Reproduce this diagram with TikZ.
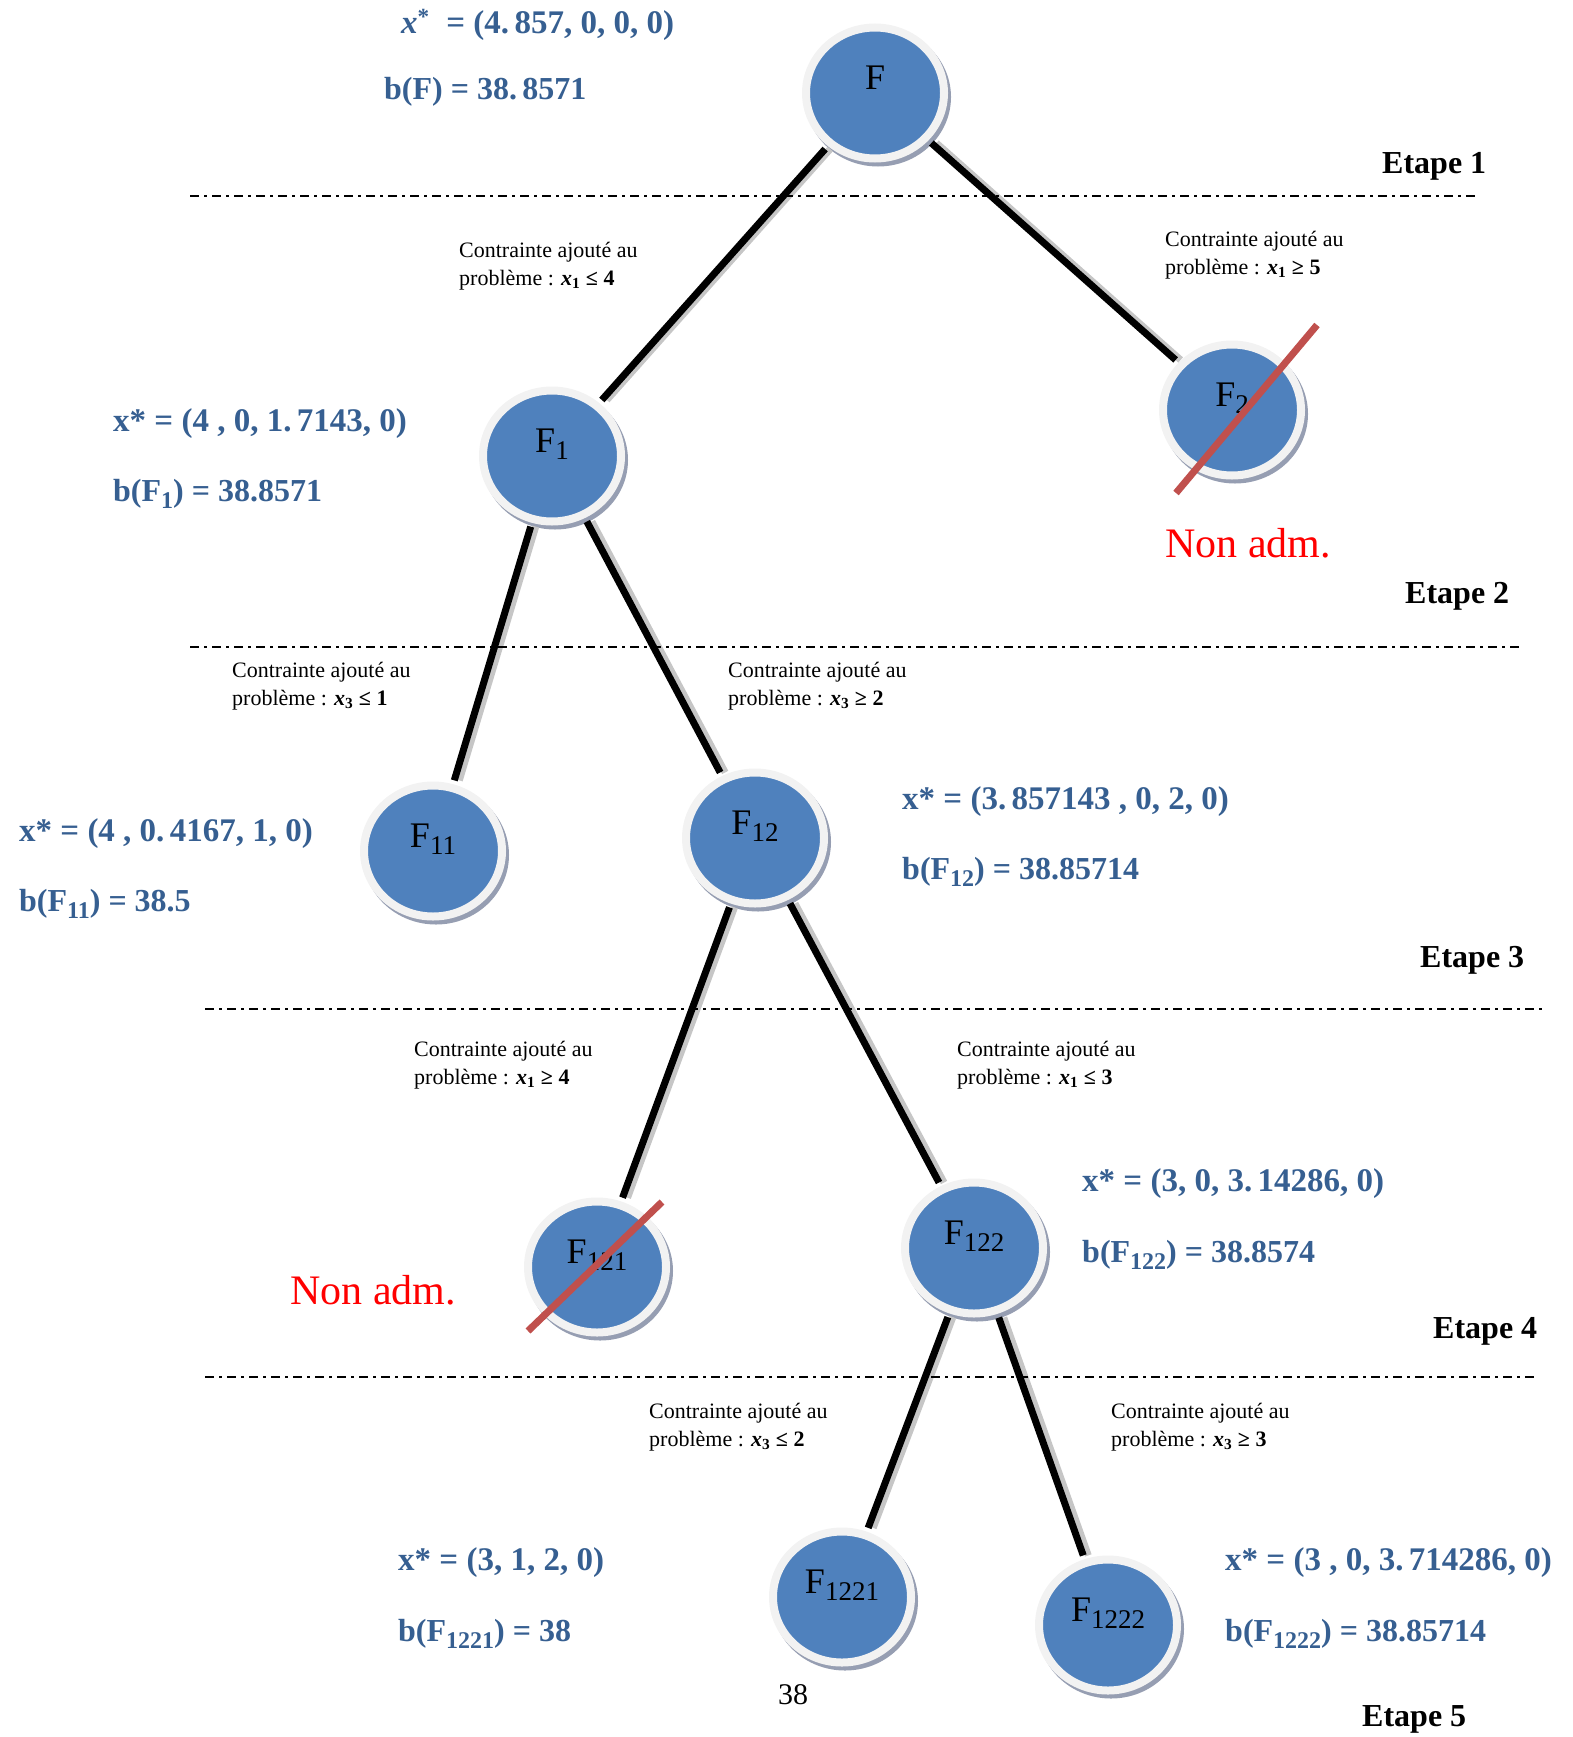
\documentclass[tikz,border=0pt]{standalone}
\usepackage{fontspec}
\setmainfont{Liberation Serif}
\usepackage{tikz}
\usetikzlibrary{positioning,shapes.geometric}
\definecolor{bleunoeud}{RGB}{79,129,189}
\definecolor{bleutexte}{RGB}{54,95,145}
\definecolor{anneau}{RGB}{242,242,242}
\definecolor{ombre}{RGB}{150,158,178}
\definecolor{rouille}{RGB}{192,80,77}
\newcommand{\Fsub}[2][27]{F\raisebox{-0.2em}{\fontsize{#1}{#1}\selectfont #2}}
\newcommand{\ajout}[1]{Contrainte ajouté au\\problème : \textbf{\textit{x}\textsubscript{\upshape #1}}}

\begin{document}
\begin{tikzpicture}[x=1pt,y=-1pt,on grid,
	sommet/.style={ellipse,minimum width=138pt,minimum height=131pt,
		fill=bleunoeud,draw=anneau,line width=8pt,
		text height=26pt,text depth=33pt,
		font=\fontsize{36}{40}\selectfont,
		preaction={fill=ombre,draw=ombre,transform canvas={shift={(3pt,-4pt)}}}},
	branche/.style={line width=7pt,shorten <=4pt,shorten >=4pt},
	ombrebranche/.style={branche,draw=gray!45},
	croix/.style={draw=rouille,line width=7pt},
	separation/.style={line width=1.5pt,dash pattern=on 9pt off 5pt on 3pt off 5pt},
	info/.style={anchor=west,inner sep=0pt,text=bleutexte,
		font=\fontsize{32}{38}\selectfont\bfseries},
	solution/.style={info,font=\fontsize{33}{38}\selectfont\bfseries},
	contrainte/.style={anchor=west,inner sep=0pt,align=left,
		font=\fontsize{22}{28}\selectfont},
	etape/.style={anchor=west,inner sep=0pt,font=\fontsize{32}{36}\selectfont\bfseries},
	nonadm/.style={anchor=west,inner sep=0pt,text=red,font=\fontsize{42}{48}\selectfont}]
\useasboundingbox (0,0) rectangle (1573,1737);

% arbre
\node(F)	[sommet] at (875,93) {F};
\node(F1)	[sommet,below left=363pt and 323pt of F] {\Fsub{1}};
\node(F2)	[sommet,below right=317pt and 357pt of F] {\Fsub{2}};
\node(F11)	[sommet,below left=395pt and 119pt of F1] {\Fsub{11}};
\node(F12)	[sommet,below right=382pt and 203pt of F1] {\Fsub{12}};
\node(F121)	[sommet,below left=429pt and 158pt of F12] {\Fsub{121}};
\node(F122)	[sommet,below right=410pt and 219pt of F12] {\Fsub{122}};
\node(F1221)	[sommet,below left=349pt and 132pt of F122] {\Fsub{1221}};
\node(F1222)	[sommet,below right=377pt and 134pt of F122] {\Fsub{1222}};

% branches, avec leur ombre grise a droite
\begin{scope}[transform canvas={xshift=5pt}]
\foreach \a/\b in {F/F1,F/F2,F1/F11,F1/F12,F12/F121,F12/F122,F122/F1221,F122/F1222}
	\draw[ombrebranche] (\a) -- (\b);
\end{scope}
\draw[branche] (F)    -- (F1);
\draw[branche] (F)    -- (F2);
\draw[branche] (F1)   -- (F11);
\draw[branche] (F1)   -- (F12);
\draw[branche] (F12)  -- (F121);
\draw[branche] (F12)  -- (F122);
\draw[branche] (F122) -- (F1221);
\draw[branche] (F122) -- (F1222);

% noeuds non admissibles
\draw[croix] ([shift={(-56,83)}]F2.center) -- ([shift={(85,-85)}]F2.center);
\draw[croix] ([shift={(-69,64)}]F121.center) -- ([shift={(65,-65)}]F121.center);
\node(na2)	[nonadm] at (1165,543) {Non adm.};
\node(na121)	[nonadm] at (290,1290) {Non adm.};

% etapes
\draw[separation] (190,196) -- (1479,196);
\draw[separation] (190,647) -- (1520,647);
\draw[separation] (205,1009) -- (1542,1009);
\draw[separation] (205,1377) -- (1534,1377);
\node(e1)	[etape] at (1382,166) {Etape 1};
\node(e2)	[etape] at (1405,596) {Etape 2};
\node(e3)	[etape] at (1420,960) {Etape 3};
\node(e4)	[etape] at (1433,1331) {Etape 4};
\node(e5)	[etape] at (1362,1719) {Etape 5};

% contraintes
\node(c1)	[contrainte] at (459,266) {\ajout{1} \textbf{≤ 4}};
\node(c2)	[contrainte] at (1165,255) {\ajout{1} \textbf{≥ 5}};
\node(c3)	[contrainte] at (232,686) {\ajout{3} \textbf{≤ 1}};
\node(c4)	[contrainte] at (728,686) {\ajout{3} \textbf{≥ 2}};
\node(c5)	[contrainte] at (414,1065) {\ajout{1} \textbf{≥ 4}};
\node(c6)	[contrainte] at (957,1065) {\ajout{1} \textbf{≤ 3}};
\node(c7)	[contrainte] at (649,1427) {\ajout{3} \textbf{≤ 2}};
\node(c8)	[contrainte] at (1111,1427) {\ajout{3} \textbf{≥ 3}};

% solutions
\node(xF)	[solution] at (401,25) {\textit{x}\textsuperscript{*}\ \ = (4.\,857, 0, 0, 0)};
\node(bF)	[info] at (384,92) {b(F) = 38.\,8571};
\node(xF1)	[solution] at (113,424) {x* = (4 , 0, 1.\,7143, 0)};
\node(bF1)	[info] at (113,494) {b(\Fsub[24]{1}) = 38.8571};
\node(xF11)	[solution] at (19,834) {x* = (4 , 0.\,4167, 1, 0)};
\node(bF11)	[info] at (19,904) {b(\Fsub[24]{11}) = 38.5};
\node(xF12)	[solution] at (902,802) {x* = (3.\,857143 , 0, 2, 0)};
\node(bF12)	[info] at (902,872) {b(\Fsub[24]{12}) = 38.85714};
\node(xF122)	[solution] at (1082,1184) {x* = (3, 0, 3.\,14286, 0)};
\node(bF122)	[info] at (1082,1255) {b(\Fsub[24]{122}) = 38.8574};
\node(xF1221)	[solution] at (398,1563) {x* = (3, 1, 2, 0)};
\node(bF1221)	[info] at (398,1634) {b(\Fsub[24]{1221}) = 38};
\node(xF1222)	[solution] at (1225,1563) {x* = (3 , 0, 3.\,714286, 0)};
\node(bF1222)	[info] at (1225,1634) {b(\Fsub[24]{1222}) = 38.85714};

\node(page)	[font=\fontsize{30}{34}\selectfont] at (793,1695) {38};
\end{tikzpicture}
\end{document}
